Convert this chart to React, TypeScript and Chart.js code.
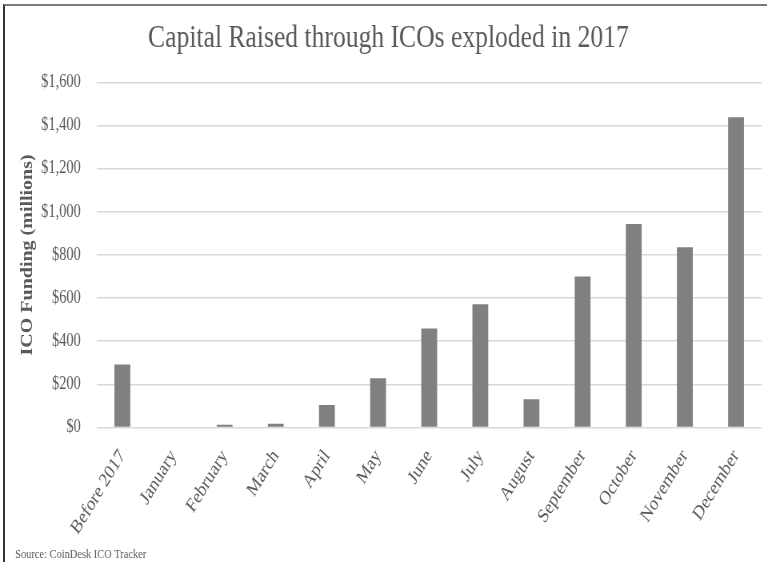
import React, { useEffect, useRef } from "react";
import { Chart, registerables } from "chart.js";

Chart.register(...registerables);

const categories = [
  "Before 2017", "January", "February", "March", "April", "May", "June",
  "July", "August", "September", "October", "November", "December",
];
const funding = [292, 0, 12, 17, 104, 228, 459, 571, 130, 700, 943, 835, 1438];
const yTicks = [0, 200, 400, 600, 800, 1000, 1200, 1400, 1600];

const titleText = "Capital Raised through ICOs exploded in 2017";
const yTitleText = "ICO Funding (millions)";
const sourceText = "Source: CoinDesk ICO Tracker";

const SQUEEZE = 0.8;
const W = 767;
const H = 562;
const CW = Math.round(W / SQUEEZE);

export default function App() {
  const ref = useRef<HTMLCanvasElement | null>(null);

  useEffect(() => {
    if (!ref.current) return;
    const font = "'Liberation Serif', 'Times New Roman', serif";
    const grey = "#595959";
    const chart = new Chart(ref.current, {
      type: "bar",
      data: {
        labels: categories,
        datasets: [
          {
            label: "ICO Funding",
            data: funding,
            backgroundColor: "#808080",
            borderWidth: 0,
            categoryPercentage: 1,
            barPercentage: 0.31,
          },
        ],
      },
      options: {
        responsive: false,
        animation: false,
        devicePixelRatio: 1,
        layout: { padding: { left: 19, right: 7, top: 0, bottom: 0 } },
        plugins: {
          legend: { display: false },
          tooltip: { enabled: false },
          title: {
            display: true,
            text: titleText,
            color: grey,
            font: { family: font, size: 32, weight: "normal" },
            padding: { top: 19, bottom: 25 },
          },
          subtitle: {
            display: true,
            text: sourceText,
            position: "bottom",
            align: "start",
            color: grey,
            font: { family: font, size: 13, weight: "normal" },
            padding: { top: 3, bottom: 0 },
          },
        },
        scales: {
          x: {
            grid: { display: false, drawTicks: false },
            border: { display: false },
            afterFit: (scale: any) => {
              scale.height = 116;
            },
            ticks: {
              color: grey,
              font: { family: font, size: 20 },
              minRotation: 53,
              maxRotation: 53,
              padding: 18,
              autoSkip: false,
            },
          },
          y: {
            min: yTicks[0],
            max: yTicks[yTicks.length - 1],
            grid: { color: "#d9d9d9", lineWidth: 1.5, drawTicks: false },
            border: { display: false },
            afterBuildTicks: (scale: any) => {
              scale.ticks = yTicks.map((v) => ({ value: v }));
            },
            afterFit: (scale: any) => {
              scale.width = 102;
            },
            ticks: {
              color: grey,
              font: { family: font, size: 18 },
              padding: 20,
              callback: (v: any) => "$" + Number(v).toLocaleString("en-US"),
            },
            title: {
              display: true,
              text: yTitleText,
              color: grey,
              font: { family: font, size: 20, weight: "bold" },
              padding: { top: 4, bottom: 4 },
            },
          },
        },
      },
    });
    return () => chart.destroy();
  }, []);

  return (
    <div
      style={{
        position: "absolute",
        left: 0,
        top: 0,
        width: W,
        height: H,
        overflow: "hidden",
        background: "#ffffff",
      }}
    >
      <div
        style={{
          position: "absolute",
          left: 0,
          top: 0,
          width: CW,
          height: H,
          transform: `scaleX(${SQUEEZE})`,
          transformOrigin: "0 0",
        }}
      >
        <canvas ref={ref} width={CW} height={H} />
      </div>
      <div
        style={{
          position: "absolute",
          left: 3,
          top: 4,
          width: W - 3,
          height: H - 4,
          borderTop: "2px solid #7a7a7a",
          borderLeft: "2px solid #333333",
          boxSizing: "border-box",
          pointerEvents: "none",
        }}
      />
    </div>
  );
}
